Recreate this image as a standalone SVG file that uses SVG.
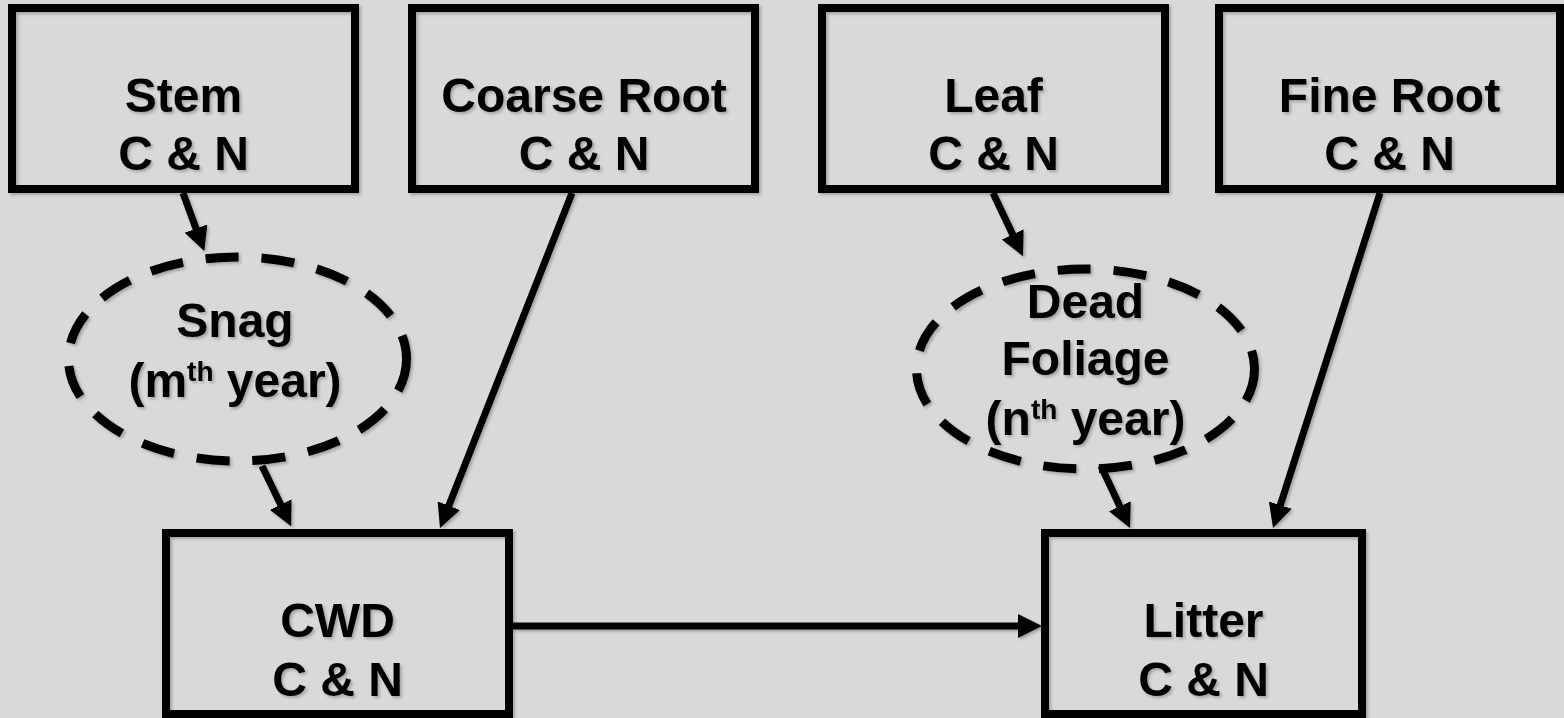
<svg xmlns="http://www.w3.org/2000/svg" width="1564" height="718" viewBox="0 0 1564 718">
  <defs>
    <filter id="shadow" x="-10%" y="-10%" width="120%" height="120%">
      <feDropShadow dx="2" dy="2" stdDeviation="1.5" flood-color="#000" flood-opacity="0.25"/>
    </filter>
    <marker id="arrow" markerUnits="userSpaceOnUse" markerWidth="24" markerHeight="24" refX="6" refY="12" orient="auto">
      <path d="M0,0 L24,12 L0,24 z" fill="#000"/>
    </marker>
    <style>
      .box { fill: none; stroke: #000; stroke-width: 8; }
      .pool { fill: none; stroke: #000; stroke-width: 9; stroke-dasharray: 33 23; }
      .flow { fill: none; stroke: #000; stroke-width: 7; marker-end: url(#arrow); }
      text { font-family: "Liberation Sans", Arial, sans-serif; font-weight: bold; font-size: 48px; fill: #000; text-anchor: middle; }
      .sup { font-size: 28px; }
    </style>
  </defs>

  <rect width="1564" height="718" fill="#d9d9d9"/>

  <g filter="url(#shadow)">
    <!-- live tissue pools -->
    <g id="stem">
      <rect class="box" x="12" y="8" width="343" height="181"/>
      <text x="183.5" y="112">Stem</text>
      <text x="183.5" y="170">C &amp; N</text>
    </g>
    <g id="coarse-root">
      <rect class="box" x="412" y="8" width="343" height="181"/>
      <text x="584" y="112">Coarse Root</text>
      <text x="584" y="170">C &amp; N</text>
    </g>
    <g id="leaf">
      <rect class="box" x="822" y="8" width="343" height="181"/>
      <text x="993.5" y="112">Leaf</text>
      <text x="993.5" y="170">C &amp; N</text>
    </g>
    <g id="fine-root">
      <rect class="box" x="1219" y="8" width="341" height="181"/>
      <text x="1389.5" y="112">Fine Root</text>
      <text x="1389.5" y="170">C &amp; N</text>
    </g>

    <!-- standing dead pools -->
    <g id="snag">
      <ellipse class="pool" cx="237.5" cy="359" rx="169" ry="102"/>
      <text x="235" y="337">Snag</text>
      <text x="235" y="397">(m<tspan class="sup" dy="-16">th</tspan><tspan dy="16"> year)</tspan></text>
    </g>
    <g id="dead-foliage">
      <ellipse class="pool" cx="1085.5" cy="369" rx="169" ry="100"/>
      <text x="1085.5" y="318">Dead</text>
      <text x="1085.5" y="375">Foliage</text>
      <text x="1085.5" y="435">(n<tspan class="sup" dy="-16">th</tspan><tspan dy="16"> year)</tspan></text>
    </g>

    <!-- detritus pools -->
    <g id="cwd">
      <rect class="box" x="166" y="533" width="343" height="181"/>
      <text x="337.5" y="637">CWD</text>
      <text x="337.5" y="696">C &amp; N</text>
    </g>
    <g id="litter">
      <rect class="box" x="1045" y="533" width="317" height="181"/>
      <text x="1203.5" y="637">Litter</text>
      <text x="1203.5" y="696">C &amp; N</text>
    </g>

    <!-- transfers -->
    <g id="connectors">
      <path class="flow" d="M183,193 L198.1,234.2"/>
      <path class="flow" d="M262,466 L283.3,510"/>
      <path class="flow" d="M572,193 L446.6,511.3"/>
      <path class="flow" d="M993,193 L1015.3,239.9"/>
      <path class="flow" d="M1101,466 L1122.4,511.7"/>
      <path class="flow" d="M1380,193 L1278.5,510.9"/>
      <path class="flow" d="M513,626 L1024,626"/>
    </g>
  </g>
</svg>
